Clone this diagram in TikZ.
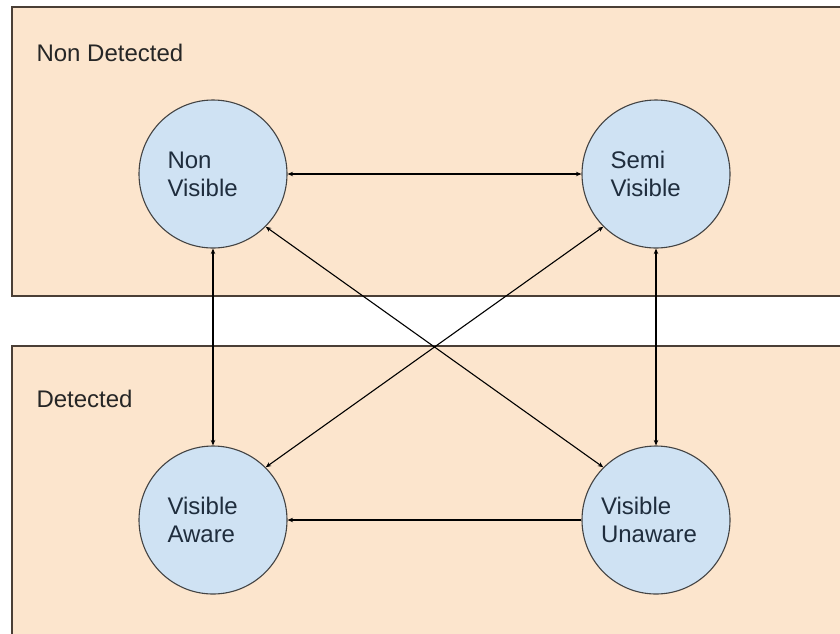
\documentclass[tikz,border=0pt]{standalone}
\usepackage{fontspec}
\setmainfont{Liberation Sans}
\usepackage{tikz}
\usetikzlibrary{arrows.meta}

\definecolor{zonefill}{HTML}{FCE5CD}
\definecolor{zoneline}{HTML}{4A3F36}
\definecolor{statefill}{HTML}{CFE2F3}
\definecolor{stateline}{HTML}{434343}
\definecolor{statetext}{HTML}{1F2D3D}

\begin{document}
\begin{tikzpicture}[
        x=1pt, y=-1pt,
        zone/.style={
            draw=zoneline,
            fill=zonefill,
            line width=1.1pt
        },
        zonelabel/.style={
            anchor=base west,
            font=\fontsize{24}{28}\selectfont,
            text=black!85
        },
        state/.style={
            draw=stateline,
            fill=statefill,
            circle,
            line width=1.1pt,
            minimum size=148pt,
            inner sep=0pt,
            text width=91pt,
            align=left,
            font=\fontsize{24}{28}\selectfont,
            text=statetext
        },
        link/.style={
            line width=1.1pt,
            {Stealth[length=5.5pt,width=4.5pt]}-{Stealth[length=5.5pt,width=4.5pt]}
        },
        oneway/.style={
            line width=1.1pt,
            -{Stealth[length=5.5pt,width=4.5pt]}
        }
    ]
        \useasboundingbox (0,0) rectangle (840,633);
        \clip (0,0) rectangle (840,633);

        % Detection zones
        \draw[zone] (12,7) rectangle (870,296);
        \draw[zone] (12,346) rectangle (870,660);
        \node[zonelabel] (ndlabel) at (33,61) {Non Detected};
        \node[zonelabel] (dlabel) at (33,407) {Detected};

        % States
        \node[state] (nv) at (213,174) {Non\\Visible};
        \node[state] (sv) at (656,174) {Semi\\Visible};
        \node[state] (va) at (213,520) {Visible\\Aware};
        \node[state, text width=110pt] (vu) at (656,520) {Visible\\Unaware};

        % Two-way transitions
        \foreach \a/\b in {nv.east/sv.west, nv.south/va.north, sv.south/vu.north, nv.-45/vu.135, sv.-135/va.45} {
            \draw[link] (\a) -- (\b);
        }

        % One-way transition
        \draw[oneway] (vu.west) -- (va.east);
    \end{tikzpicture}
\end{document}
